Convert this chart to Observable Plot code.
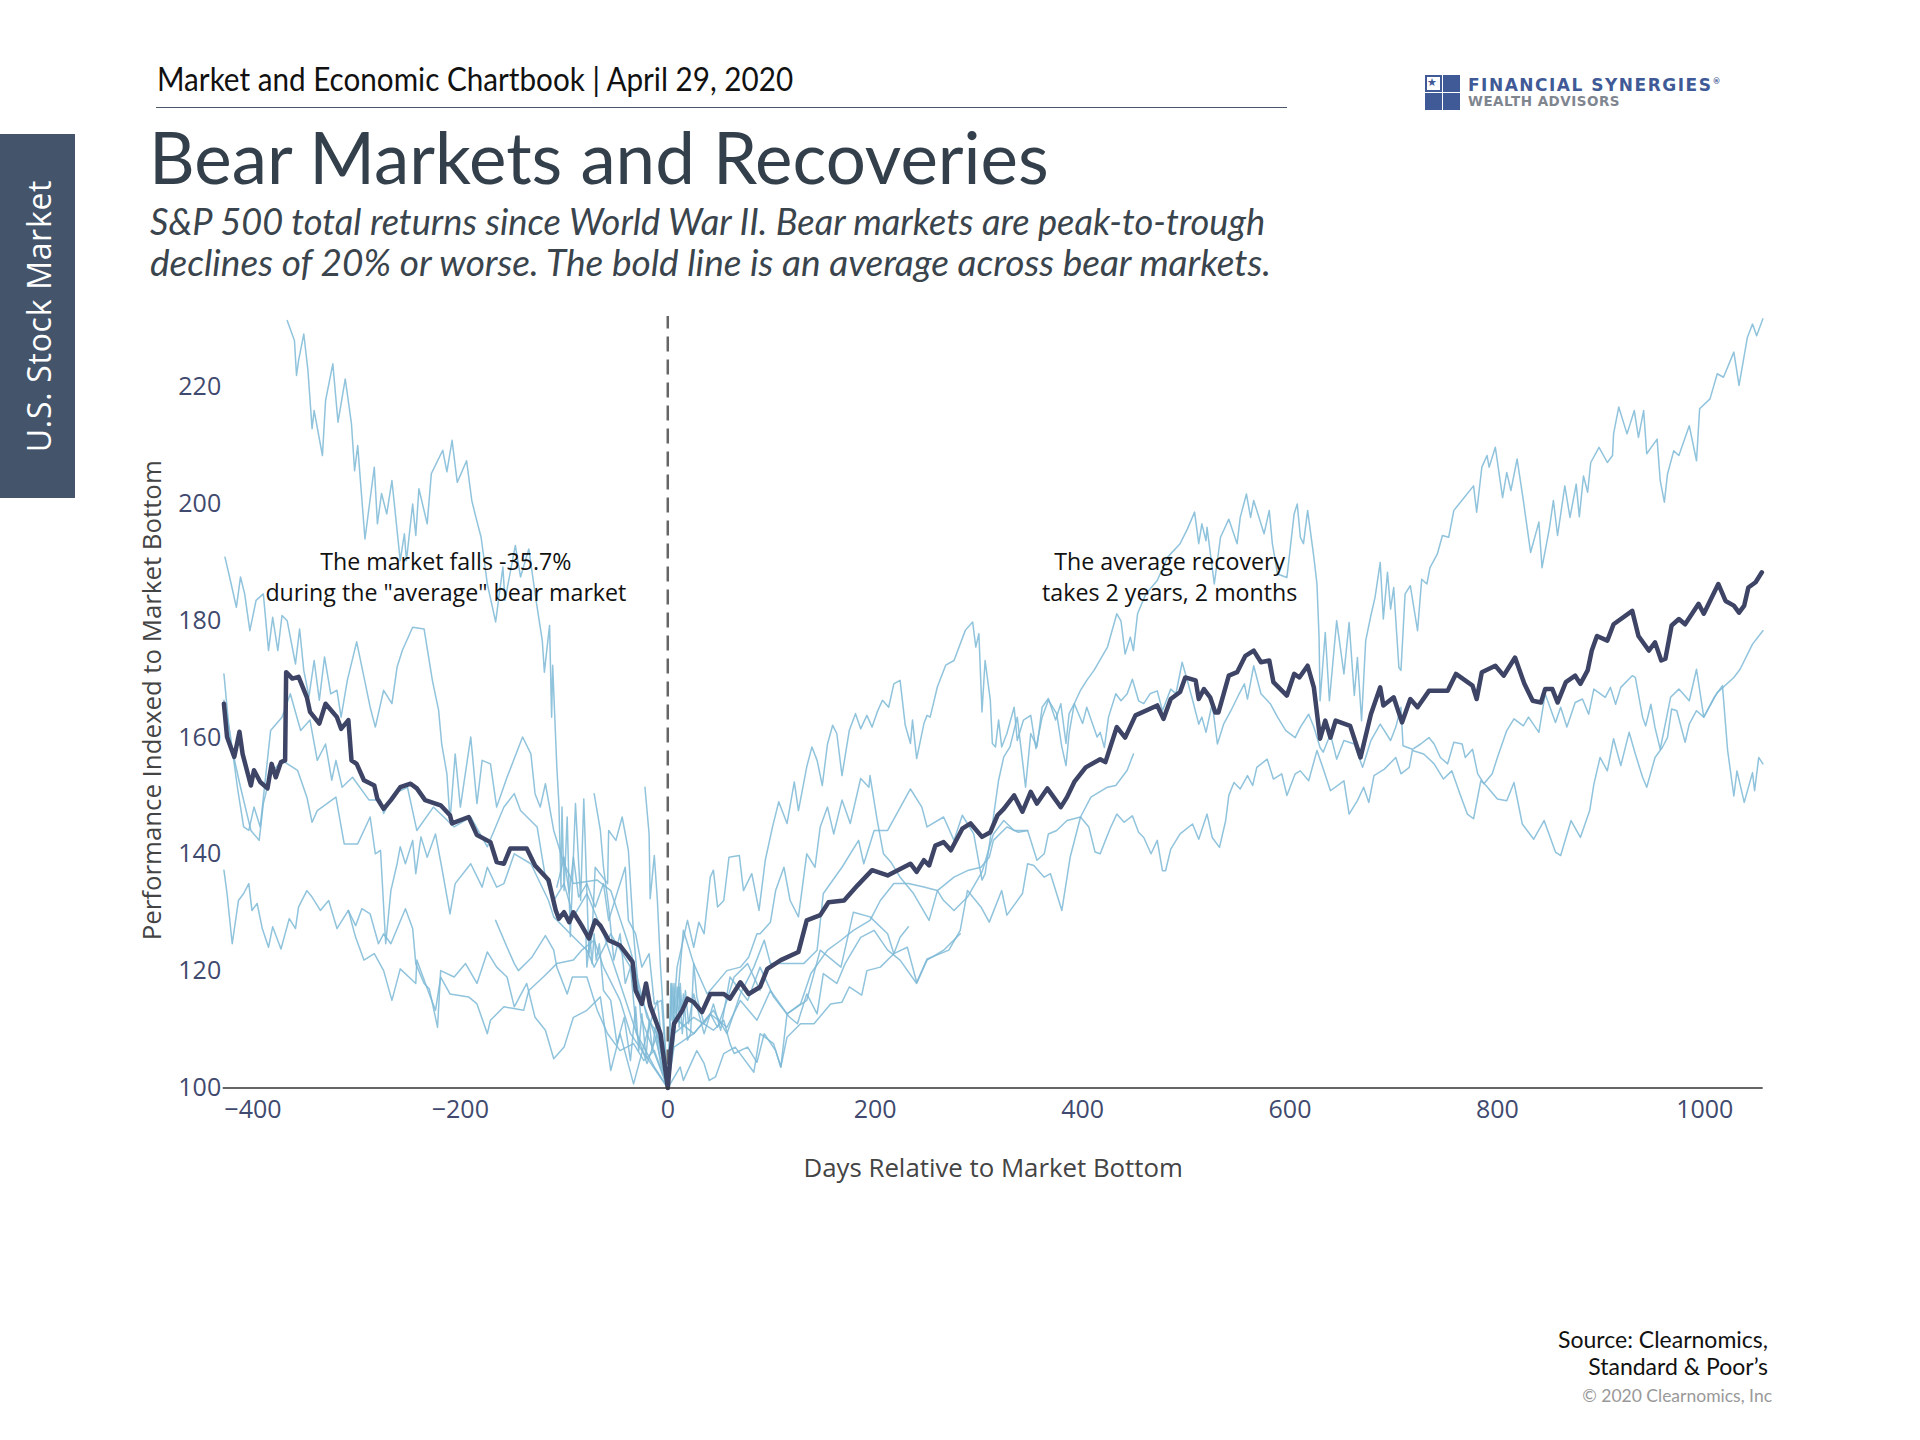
<!DOCTYPE html>
<html><head><meta charset="utf-8">
<script src="https://cdn.jsdelivr.net/npm/d3@7"></script>
<script src="https://cdn.jsdelivr.net/npm/@observablehq/plot@0.6"></script>
<style>
html,body{margin:0;padding:0;background:#fff}
#page{position:relative;width:1920px;height:1440px;overflow:hidden;font-family:"Lato",sans-serif}
#page>*{position:absolute}
.t{white-space:nowrap}
.sub{left:150px;font-size:37px;line-height:41.5px;font-style:italic;color:#3a444c;transform-origin:left center}
#chart{left:0;top:300px}
</style></head><body>
<div id="page">
  <div style="left:0;top:134px;width:75px;height:364px;background:#44546a"></div>
  <div class="t" style="left:38px;top:316px;transform:translate(-50%,-50%) rotate(-90deg);color:#fff;font:32px 'Open Sans';letter-spacing:.7px">U.S. Stock Market</div>
  <div class="t" style="left:157px;top:59px;font-size:32px;line-height:40px;color:#111;transform:scaleX(.927);transform-origin:left center">Market and Economic Chartbook | April 29, 2020</div>
  <div style="left:156px;top:107px;width:1131px;height:1px;background:#4a5568"></div>
  <div class="t" style="left:149px;top:116px;font-size:72px;line-height:80px;color:#333f4a;transform:scaleX(.984);transform-origin:left center">Bear Markets and Recoveries</div>
  <div class="t sub" style="top:199.5px;transform:scaleX(.979)">S&amp;P 500 total returns since World War II. Bear markets are peak-to-trough</div>
  <div class="t sub" style="top:241px;transform:scaleX(1)">declines of 20% or worse. The bold line is an average across bear markets.</div>
  <div id="logo" style="left:1425px;top:75px;width:35px;height:35px">
    <div style="position:absolute;left:0;top:0;width:13px;height:13px;border:2px solid #3f5a96;background:#fff;color:#3f5a96;font:11px/12px 'DejaVu Sans'">★</div>
    <div style="position:absolute;left:18px;top:0;width:17px;height:17px;background:#3f5a96"></div>
    <div style="position:absolute;left:0;top:18px;width:17px;height:17px;background:#3f5a96"></div>
    <div style="position:absolute;left:18px;top:18px;width:17px;height:17px;background:#3f5a96"></div>
  </div>
  <div class="t" style="left:1468px;top:75px;font:bold 17px/20px 'DejaVu Sans';letter-spacing:1.5px;color:#3f5a96">FINANCIAL SYNERGIES<sup style="font-size:8px;line-height:0">®</sup></div>
  <div class="t" style="left:1468px;top:93px;font:bold 13.5px/16px 'DejaVu Sans';letter-spacing:.5px;color:#7f8690">WEALTH ADVISORS</div>
  <div class="t" style="right:152px;top:1326px;text-align:right;font-size:23px;line-height:27px;color:#111">Source: Clearnomics,<br>Standard &amp; Poor’s</div>
  <div class="t" style="right:148px;top:1386px;font-size:17.5px;line-height:20px;color:#999">© 2020 Clearnomics, Inc</div>
  <div id="chart"></div>
</div>
<script>
const xTicks=[-400,-200,0,200,400,600,800,1000];
const yTicks=[100,120,140,160,180,200,220];
const xDomain=[-428.7,1056.3];
const yDomain=[100,232.1];
const xTitle="Days Relative to Market Bottom";
const yTitle="Performance Indexed to Market Bottom";
const noteFall=[-214,187.7,"The market falls -35.7%\nduring the \"average\" bear market"];
const noteRecovery=[484,187.7,"The average recovery\ntakes 2 years, 2 months"];

const fallA=[[-367,231.4],[-360,228],[-358,222],[-356,224.6],[-351,229.1],[-347,222.9],[-343,212.9],[-341,216],[-333,208.3],[-330,217.7],[-323,224],[-318,214],[-311,221.4],[-305,213.7],[-302,205.7],[-299,210],[-292,194],[-283,206.3],[-280,196.6],[-276,201.8],[-271,198.3],[-266,204],[-258,190.3],[-254,194.9],[-252,190.3],[-246,200],[-243,194.6],[-240,202.6],[-232,196.6],[-228,205.2],[-217,209.2],[-213,205.5],[-208,210.9],[-203,203.7],[-194,207.4],[-189,200.6],[-185,197.7],[-180,194.3],[-174,186.3],[-166,179.8],[-159,189.2],[-157,183.5],[-147,192.9],[-142,187.5],[-134,192.3],[-127,183.5],[-121,176.6],[-119,171.2],[-114,179.2],[-112,163.5],[-111,172.4],[-107,155],[-105,148.7],[-103,134.4],[-102,148.1],[-100,133.8],[-97,146.4],[-94,125.9],[-89,148.7],[-84,132.1],[-81,149.5],[-76,123],[-73,126.4],[-70,137.8],[-58,135],[-57,144.1],[-50,142.4],[-44,146.4],[-38,140.7],[-33,126.4],[-26,112.1],[-20,109.3],[-10,115],[-4,104.7],[0,100]];
const fallB=[[-427,190.9],[-421,186.3],[-416,182.3],[-412,187.5],[-408,184.6],[-403,178.3],[-397,183.5],[-390,184.6],[-385,174.9],[-381,180.6],[-376,174.9],[-372,180.9],[-367,180],[-359,172.6],[-355,178.6],[-351,171.5],[-346,167],[-341,173.2],[-336,166.4],[-331,173.8],[-325,167.5],[-319,168.1],[-315,163.5],[-309,169.8],[-300,176.4],[-293,170.4],[-287,165.2],[-282,161.8],[-274,168.1],[-266,165.8],[-261,172.1],[-256,174.9],[-246,178.9],[-235,178.6],[-227,169.8],[-221,164.7],[-218,158.9],[-213,153.8],[-210,145.8],[-205,157.2],[-200,148.1],[-190,160.1],[-184,148.7],[-179,156.1],[-171,155.5],[-165,148.1],[-155,153.2],[-140,160.1],[-132,157.2],[-128,150.4],[-123,148.1],[-118,152.1],[-110,144.1],[-100,138.4],[-91,135],[-68,135.6],[-55,133.8],[-36,123.6],[-20,112.1],[-10,109.3],[0,100]];
const fallC=[[-428,170.9],[-422,159.5],[-412,151.5],[-402,144.1],[-394,142.4],[-390,148.7],[-383,153.8],[-372,156.1],[-357,154.4],[-348,149.8],[-343,145.5],[-338,147.5],[-320,149.8],[-312,141.8],[-299,141.8],[-287,146.4],[-282,140.1],[-277,140.7],[-272,124.7],[-267,133.8],[-261,138.4],[-258,141.3],[-253,138.4],[-246,142.4],[-243,136.7],[-238,143],[-232,139.5],[-224,143.5],[-218,137.8],[-210,129.8],[-205,135],[-190,138.4],[-179,134.4],[-174,137.8],[-165,134.4],[-158,135],[-148,140.1],[-132,138.4],[-115,132.1],[-110,129.3],[-94,126.4],[-78,123.6],[-71,120.7],[-55,126.4],[-36,120.7],[-13,109.3],[0,100]];
const fallD=[[-428,166.4],[-422,160.7],[-415,151.5],[-409,144.7],[-404,144.1],[-399,148.1],[-393,144.7],[-383,161.2],[-372,163.5],[-364,167.5],[-354,161.2],[-345,163],[-338,156.1],[-330,158.9],[-324,152.7],[-320,156.1],[-314,151.5],[-304,153.2],[-288,149.3],[-277,149.3],[-274,147],[-264,150.4],[-251,151.5],[-242,144.1],[-226,148.1],[-206,144.7],[-190,146.4],[-174,141.3],[-158,148.1],[-148,150.4],[-142,147.5],[-126,144.7],[-118,136.1],[-110,132.1],[-100,135],[-91,129.3],[-78,133.3],[-62,126.4],[-46,117.9],[-30,109.3],[-13,103.6],[0,100]];
const fallE=[[-428,137.3],[-425,133.3],[-420,124.7],[-414,132.1],[-409,133.3],[-404,135],[-401,130.4],[-396,131.6],[-391,127.3],[-385,124.1],[-381,127.6],[-373,123.8],[-365,129],[-359,127.3],[-356,131],[-348,133.8],[-343,132.7],[-335,130.4],[-327,132.1],[-319,127.3],[-308,130.4],[-301,127.8],[-295,130.7],[-287,129.8],[-279,124.7],[-274,126.4],[-267,124.7],[-253,130.7],[-246,127.3],[-243,121.3],[-235,117.9],[-230,117],[-222,110.4],[-219,120.1],[-206,119],[-195,121.3],[-184,117.9],[-174,123.3],[-165,120.7],[-155,119],[-148,113.9],[-136,117.9],[-128,112.1],[-118,109.9],[-110,105],[-100,107],[-91,112.1],[-78,113.3],[-65,115.6],[-55,103],[-46,109.3],[-33,100.7],[-20,109.3],[0,100]];
const fallF=[[-308,130.4],[-301,125.8],[-293,121.9],[-283,123],[-274,120.1],[-266,115],[-258,120.4],[-243,117.9],[-242,121.9],[-230,116.1],[-224,113.3],[-219,119],[-210,116.1],[-192,115.6],[-184,114.4],[-174,109.3],[-171,111.6],[-158,113.9],[-139,113.3],[-134,116.7],[-120,119],[-107,121.3],[-91,121.9],[-83,123.6],[-71,125.3],[-62,120.7],[-46,115],[-36,109.3],[0,100]];
const fallG=[[-166,128.7],[-155,124.1],[-148,121.3],[-144,120.1],[-131,122.4],[-118,126.1],[-110,123.6],[-107,120.7],[-97,116.1],[-92,119],[-78,119],[-68,113.3],[-58,109.3],[-46,106.4],[-33,107.6],[-23,104.7],[-13,106.4],[0,100]];
const fallH=[[-71,150.4],[-65,144.1],[-62,137.8],[-57,131],[-52,121.9],[-46,126.4],[-41,117.9],[-36,120.7],[-30,109.3],[-20,104.2],[-10,109.3],[0,100]];
const fallI=[[-22,151.5],[-18,143.5],[-17,132.4],[-13,139.8],[-10,132.1],[-7,120.7],[-4,112.1],[0,100]];
const fallJ=[[-79,126.4],[-78,120.7],[-75,125.8],[-73,121.3],[-71,126.4],[-69,121.9],[-66,124.7],[-62,116.7],[-55,115],[-49,107.6],[-42,112.1],[-36,104.7],[-31,113.9],[-28,106.4],[-25,112.7],[-21,105.3],[-18,111.6],[-15,106.4],[-12,110.4],[-7,104.2],[0,100]];
const fallK=[[-107,134.4],[-100,139.5],[-95,133.3],[-91,139.5],[-86,132.7],[-78,135],[-70,131],[-62,135],[-57,128.7],[-49,133.3],[-41,137.8],[-38,128.7],[-31,126.4],[-25,120.7],[-18,123],[-13,114.4],[-6,115],[0,100]];

const riseA=[[0,100],[9,120.7],[19,128.7],[25,124.1],[30,128.4],[35,126.4],[41,136.1],[44,137.3],[48,131],[54,132.1],[59,139.5],[69,139.8],[73,133.8],[81,136.7],[88,130.4],[94,139],[101,144.7],[107,149],[115,145.3],[122,152.4],[126,147.5],[134,155],[139,158.4],[144,156.1],[149,151.8],[154,158.9],[159,162.1],[163,160.7],[168,153.5],[175,161.2],[181,164.1],[186,161.5],[192,163.8],[197,161.8],[202,164.4],[207,166.4],[213,165.2],[218,169.2],[224,169.8],[229,162.1],[234,159],[236,163],[240,156.4],[247,162.4],[250,163.8],[253,163.5],[260,168.7],[268,172.4],[276,173.2],[287,178.4],[294,179.8],[297,175.5],[300,177.8],[303,164.4],[306,173.2],[311,166.4],[313,159],[316,158.4],[319,163],[322,158.4],[327,160.7],[334,165.2],[337,159.5],[343,163],[350,163.8],[355,158.1],[361,163.5],[367,166.4],[375,164.1],[380,158.4],[384,155.2],[387,160.7],[392,165.8],[398,168.1],[404,169.8],[411,171.5],[424,175.5],[433,181.2],[437,180],[441,174.3],[446,177.2],[449,174.9],[453,181.2],[461,184.6],[472,186.9],[482,190.9],[494,193.2],[501,195.7],[508,198.6],[512,193.2],[515,196.6],[519,193.7],[520,196],[527,186.3],[533,194.3],[541,197.4],[549,193.2],[552,197.7],[558,201.7],[562,197.7],[565,200.6],[575,194.9],[580,198.9],[583,193.2],[588,188],[597,187.4],[604,198.3],[607,200],[610,194.3],[613,193.2],[617,198.9],[623,190.9],[626,186.3],[628,177.4],[629,166.3],[634,178],[638,166.3],[645,180],[652,170.9],[657,179.7],[662,167.2],[665,173.7],[669,162.9],[673,176.6],[678,180.9],[682,184],[687,190],[690,180.3],[694,188.3],[697,182],[700,185.7],[705,172],[707,171.5],[711,184.6],[716,186],[723,178.3],[727,187.1],[732,186.3],[735,189.1],[742,191.4],[747,194.6],[753,194.3],[758,198.9],[768,201.1],[777,203.1],[780,198.6],[785,206.3],[790,208.3],[792,206.3],[798,209.7],[805,201.1],[809,205.4],[813,202.3],[819,207.7],[825,200.6],[832,191.7],[840,196.9],[843,189.1],[850,195.7],[854,200.6],[858,194.6],[865,203.1],[870,197.7],[876,203.4],[879,197.8],[883,204.8],[887,202],[890,207.1],[898,209.7],[906,207.1],[911,208.3],[912,212],[917,216.6],[925,212],[932,216],[936,211.4],[941,216],[944,208.6],[954,211.1],[957,204],[961,200.3],[964,205.1],[970,209.1],[975,208.3],[985,213.4],[992,207.4],[995,216.3],[1005,218],[1012,222.3],[1018,221.7],[1028,226],[1033,220.3],[1041,228.5],[1046,230.8],[1050,228.8],[1056,231.7]];
const riseB=[[0,100],[6,112.1],[25,109.3],[44,113.3],[57,109.3],[70,116.1],[83,120.7],[93,125.3],[99,121.3],[122,121.3],[131,121.3],[144,123.6],[150,133.3],[168,137.8],[184,142.4],[189,138.4],[199,144.1],[212,144.1],[234,151.2],[245,148.1],[250,144.7],[266,146.4],[276,142.4],[284,146.7],[295,143.5],[303,135.6],[306,136.7],[314,146.4],[319,152.7],[324,156.7],[330,158.4],[337,163.5],[342,156.1],[345,151.5],[350,160.7],[356,158.4],[361,165.2],[367,166.7],[374,163],[379,165.8],[384,159],[387,164.1],[392,165.8],[400,162.4],[404,165.2],[414,160.1],[417,160.9],[421,158.3],[425,163.5],[432,167.5],[437,166.3],[443,167.5],[448,170],[454,166.3],[459,165.8],[465,167.5],[472,168],[477,164.6],[485,168.3],[490,167.5],[496,172.9],[501,169.8],[507,165.8],[512,162.3],[515,163.5],[519,160.9],[525,165.8],[530,158.9],[536,162.3],[543,164.6],[551,167.5],[556,169.2],[559,166.6],[565,172.3],[572,167.5],[581,165.8],[588,163.5],[596,161.2],[605,160],[610,161.8],[618,164],[623,161.8],[629,158.3],[632,157.5],[639,160.6],[645,156.3],[652,159.5],[662,158.9],[670,154.9],[678,159.5],[687,162.3],[697,159.5],[702,161.8],[707,165.2],[709,158.6],[718,158],[726,158.9],[734,160],[739,158.9],[745,156.6],[752,155.5],[758,159.2],[766,158.9],[769,156.6],[776,158],[781,153.8],[787,152.1],[795,153.8],[800,156.6],[809,161.2],[816,163.2],[825,162],[830,163.5],[840,160.9],[845,166.3],[846,167.5],[856,162.6],[861,165.2],[867,161.8],[875,166],[882,166.6],[888,164],[893,168.3],[904,166.9],[909,168.6],[914,165.7],[919,168.6],[930,170.6],[933,170.3],[940,163.5],[943,162],[948,165.7],[952,161.7],[957,158],[967,166.9],[975,168.3],[985,166.3],[992,171.7],[999,163.5],[1009,166.9],[1017,168.9],[1022,157.8],[1028,150],[1031,154.3],[1038,148.9],[1046,154],[1048,150.9],[1052,156.6],[1056,155.5]];
const riseC=[[0,100],[6,107],[25,109.3],[41,112.7],[57,110.4],[70,115],[86,111.6],[99,116.7],[115,112.7],[128,114.4],[138,119.6],[154,123.6],[167,125.3],[179,127],[195,128.7],[205,132.1],[218,135],[232,135],[247,134.4],[260,133.8],[276,136.1],[290,137.3],[302,137.8],[310,139.5],[314,142.4],[327,144.7],[338,143.8],[347,144.1],[356,139],[363,140.1],[367,143.5],[375,144.1],[385,145.8],[398,146.4],[406,144.7],[412,140.4],[417,140.1],[422,142.4],[427,144.6],[433,146.9],[440,145.5],[448,146.6],[454,143.8],[459,142.9],[466,140.1],[472,142.4],[477,137.2],[480,137.2],[485,140.9],[494,143.5],[506,145.2],[512,142.6],[520,146.9],[525,142.9],[532,141.2],[538,145.8],[541,150.1],[546,152.3],[552,151.2],[559,153.5],[564,151.8],[568,154.9],[578,156.3],[584,152.9],[592,153.8],[597,150.1],[605,153.8],[610,154.3],[618,152.6],[626,157.8],[631,155.2],[639,150.9],[652,152.6],[657,146.9],[665,149.2],[671,151.5],[676,148.9],[681,153.5],[691,154.6],[702,156.6],[707,153.8],[715,154.9],[718,157.8],[729,157.2],[739,155.5],[748,152.9],[756,154.3],[764,150.3],[771,146.9],[777,146.1],[784,152.6],[789,151.8],[800,149.5],[809,149.2],[816,152.3],[824,145.2],[835,142.6],[845,145.8],[856,140.4],[861,139.8],[871,145.8],[880,142.9],[889,147.5],[893,152],[899,156.6],[906,154.3],[912,159.8],[919,155.2],[927,160.9],[933,157.2],[940,153.2],[944,151.5],[952,156.6],[959,158.3],[964,160],[968,164.9],[973,164.6],[981,159.2],[985,162.3],[992,164.6],[999,163.5],[1012,167.7],[1028,170.3],[1034,171.7],[1046,176],[1056,178.3]];
const riseD=[[0,100],[12,103.6],[15,101.3],[28,106.4],[35,104.2],[40,101.3],[46,101.9],[54,105.9],[65,107],[83,102.7],[89,109.3],[102,107.6],[109,103.6],[115,108.7],[128,111],[141,111],[157,114.4],[168,114.7],[175,117.3],[187,115.9],[192,120.1],[205,120.7],[218,123],[231,124.1],[240,118.1],[250,122.1],[271,123.6],[282,127],[289,133.8],[302,131],[310,128.4],[322,133.8],[327,129.6],[342,133.3],[347,138.4],[353,138.1],[363,136.1],[369,136.7],[380,130.4],[388,139.5],[398,146.4],[408,149.8],[424,151.5],[432,151.8],[443,154.4],[449,157.2]];
const riseE=[[0,100],[6,108.1],[12,120.7],[15,127],[25,121.3],[38,116.1],[57,120.1],[70,120.7],[78,122.4],[86,126.4],[89,126.4],[99,128.4],[104,133.8],[112,137.8],[118,132.1],[126,129.3],[134,140.1],[142,137.8],[147,144.7],[154,148.1],[160,143.5],[168,149.3],[176,145.3],[186,153],[194,151.5],[195,153.5],[202,145.8],[208,140.1],[215,138.7],[224,136.1],[237,133.3],[252,128.7],[260,133.8],[266,132.1],[276,130.4],[289,132.7],[303,137],[314,143.5],[324,145.8],[334,144.1],[347,144.1]];
const riseF=[[0,100],[6,109.3],[25,112.1],[44,109.9],[54,111.6],[60,107.6],[64,105.9],[77,107],[86,104.4],[93,109.3],[104,106.4],[109,103.6],[115,112.7],[134,115],[147,123.6],[167,120.7],[179,130.1],[195,129.3],[212,126.4],[218,123],[224,125.8],[232,127.6]];
const riseG=[[0,100],[4,117.9],[7,110.4],[11,117.3],[14,109.3],[17,116.7],[20,111],[25,116.1],[35,109.3],[44,114.4],[51,109.9],[60,119],[77,115],[89,120.7],[102,115.6],[117,112.2],[125,111],[134,116.1],[144,112.7],[150,119.6],[163,117.9],[171,121.3],[186,125.8],[199,127],[212,123.6],[224,121.9],[240,117.9],[250,121.9],[266,123.6],[282,126.4]];
const riseH=[[0,100],[3,117.9],[4,111.6],[6,117.9],[7,112.8],[9,117.3],[11,110.4],[12,117.9],[14,112.7],[15,116.1],[19,108.2],[22,109.3],[25,121.3],[28,115.6],[35,111],[41,112.7],[48,110.4],[57,115],[64,119],[77,121.3],[89,116.7]];

const average=[[-428,165.8],[-425,160.1],[-418,156.7],[-413,161],[-410,157.2],[-402,151.8],[-399,154.4],[-393,152.4],[-386,151.3],[-382,155.5],[-378,153.2],[-373,155.8],[-369,156.1],[-368,171.2],[-362,170.1],[-356,170.4],[-348,166.9],[-345,164.4],[-336,162.4],[-330,165.8],[-319,163.5],[-315,161.5],[-308,163],[-305,156.1],[-300,155.5],[-293,152.7],[-283,151.8],[-280,149.5],[-274,147.8],[-267,149.3],[-258,151.5],[-248,152.1],[-242,151.3],[-234,149.3],[-219,148.4],[-210,146.7],[-208,145.3],[-192,146.4],[-184,143.3],[-171,142.1],[-165,138.7],[-158,138.4],[-152,141],[-136,141],[-128,138.1],[-115,135.6],[-108,130.4],[-105,129],[-100,130.1],[-95,128.4],[-91,130.1],[-83,127.8],[-76,125.6],[-70,128.7],[-65,127.8],[-57,125.3],[-46,124.4],[-34,121.6],[-31,116.7],[-25,114.4],[-21,117.9],[-17,114.1],[-7,109.3],[0,100],[3,106.4],[6,111],[14,113.3],[19,115.3],[25,114.7],[33,113],[41,116.1],[54,116.1],[60,115.3],[70,118.1],[78,116.1],[89,117.3],[96,120.4],[109,121.9],[126,123.3],[134,128.7],[147,129.6],[155,131.8],[170,132.1],[183,134.7],[197,137.3],[212,136.4],[234,138.4],[240,137],[247,139],[252,138.1],[258,141.5],[266,142.1],[273,140.7],[284,144.4],[292,145.3],[303,143],[311,143.8],[318,146.7],[324,147.8],[334,150.1],[342,147.3],[350,150.7],[356,148.7],[366,151.3],[379,148.1],[385,149.8],[392,152.4],[403,154.9],[417,156.3],[422,155.8],[433,161.8],[441,160],[451,163.8],[472,165.5],[478,163.2],[485,166.6],[494,167.8],[499,170.3],[509,169.8],[512,166.6],[517,168.3],[523,166.9],[528,164.3],[531,164.3],[541,170.6],[549,171.2],[557,174],[565,174.9],[572,172.9],[580,173.2],[584,169.5],[597,167.2],[604,170.9],[609,170.3],[617,172.3],[623,168.6],[629,159.8],[634,162.9],[639,160],[644,162.9],[658,162],[668,156.6],[678,164],[687,168.6],[690,165.5],[700,166.9],[708,162.6],[716,166.6],[723,165.2],[734,168],[752,168],[760,170.9],[776,168.9],[780,166.6],[785,171.2],[798,172.3],[806,170.6],[817,173.7],[826,169.2],[834,166.3],[842,166],[846,168.3],[853,168.3],[858,166],[866,169.5],[875,170.6],[880,169.2],[887,171.5],[891,174.9],[896,177.4],[906,176.6],[912,179.4],[930,181.7],[936,177.4],[946,174.9],[952,176.3],[958,173.2],[962,173.5],[968,179.2],[975,180.3],[981,179.4],[994,182.9],[999,181.2],[1013,186.3],[1020,183.4],[1028,182.6],[1033,181.4],[1038,182.6],[1042,185.7],[1049,186.6],[1055,188.3]];

const thinLines=[fallA,fallB,fallC,fallD,fallE,fallF,fallG,fallH,fallI,fallJ,fallK,riseA,riseB,riseC,riseD,riseE,riseF,riseG,riseH];
const thinRows=thinLines.flatMap((s,i)=>s.map(([day,value])=>({day,value,series:i})));
const avgRows=average.map(([day,value])=>({day,value}));
const tickColor="#3f4a6e";

const chart=Plot.plot({
  width:1920,height:900,marginLeft:222.7,marginRight:157.3,marginTop:16,marginBottom:112.5,
  style:{fontFamily:"'Open Sans'",background:"transparent",overflow:"visible"},
  x:{domain:xDomain,ticks:xTicks,label:null},
  y:{domain:yDomain,ticks:yTicks,label:null},
  marks:[
    Plot.axisX({ticks:xTicks,tickSize:0,tickPadding:12.5,fontSize:25,fill:tickColor,tickFormat:d3.format("d"),label:null}),
    Plot.axisY({ticks:yTicks,tickSize:0,tickPadding:2,fontSize:25,fill:tickColor,label:null}),
    Plot.line(thinRows,{x:"day",y:"value",z:"series",stroke:"#7db8d6",strokeWidth:1.5,strokeOpacity:.85}),
    Plot.ruleX([0],{y1:yDomain[0],y2:yDomain[1],stroke:"#666",strokeWidth:2.5,strokeDasharray:"15,8"}),
    Plot.line(avgRows,{x:"day",y:"value",stroke:"#3d4466",strokeWidth:4.5}),
    Plot.ruleY([100],{stroke:"#333",strokeWidth:1.5}),
    Plot.text([noteFall,noteRecovery],{x:d=>d[0],y:d=>d[1],text:d=>d[2],fontSize:23.2,lineHeight:1.3,fill:"#111",textAnchor:"middle"}),
    Plot.text([xTitle],{frameAnchor:"bottom",dy:89,fontSize:25.8,fill:"#444"}),
    Plot.text([yTitle],{frameAnchor:"left",textAnchor:"middle",rotate:-90,dx:-70,dy:-2,fontSize:25.8,fill:"#444"})
  ]
});
document.getElementById("chart").append(chart);
</script>
</body></html>
